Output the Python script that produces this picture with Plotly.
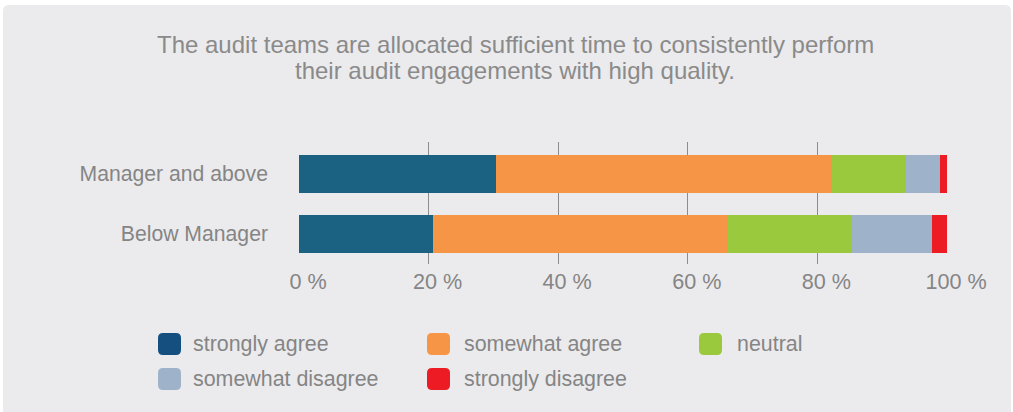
import plotly.graph_objects as go

# Survey responses (% of respondents) per staff level
categories = ["Below Manager", "Manager and above"]
series_names = ["strongly agree", "somewhat agree", "neutral",
                "somewhat disagree", "strongly disagree"]
values = {
    "strongly agree":    [20.7, 30.4],
    "somewhat agree":    [45.5, 51.8],
    "neutral":           [19.2, 11.4],
    "somewhat disagree": [12.3, 5.3],
    "strongly disagree": [2.3, 1.1],
}
tick_vals = [0, 20, 40, 60, 80, 100]
tick_labels = ["0 %", "20 %", "40 %", "60 %", "80 %", "100 %"]
title_lines = ["The audit teams are allocated sufficient time to consistently perform",
               "their audit engagements with high quality."]

bar_colors = ["#1B6182", "#F79546", "#9AC93D", "#9EB3CA", "#ED1C24"]
swatch_colors = ["#154F80", "#F79546", "#9AC93D", "#9EB3CA", "#ED1C24"]

W, H = 1013, 412
L, R, T, B = 299, 66, 142, 148
PW, PH = W - L - R, H - T - B
FONT = "Liberation Sans, Arial, sans-serif"
TEXT = "#858585"


def px(x):
    return (x - L) / PW


def py(y):
    return (H - B - y) / PH


def rounded_rect(x0, y0, x1, y1, r):
    """SVG path for a rounded rectangle given in pixel coords (paper-mapped)."""
    X0, X1 = px(x0), px(x1)
    Y0, Y1 = py(y0), py(y1)
    rx, ry = r / PW, r / PH
    return (f"M{X0 + rx},{Y0} L{X1 - rx},{Y0} Q{X1},{Y0} {X1},{Y0 - ry} "
            f"L{X1},{Y1 + ry} Q{X1},{Y1} {X1 - rx},{Y1} "
            f"L{X0 + rx},{Y1} Q{X0},{Y1} {X0},{Y1 + ry} "
            f"L{X0},{Y0 - ry} Q{X0},{Y0} {X0 + rx},{Y0} Z")


fig = go.Figure()
for name, color in zip(series_names, bar_colors):
    fig.add_trace(go.Bar(
        y=categories, x=values[name], name=name, orientation="h",
        marker=dict(color=color, line=dict(width=0)),
        showlegend=False, hoverinfo="x+name",
    ))

shapes = [dict(type="path", xref="paper", yref="paper",
               path=rounded_rect(3, 5, 1011, 430, 6),
               fillcolor="#EBEBED", line=dict(width=0), layer="below")]

# Two-line heading, each line placed separately for tight leading
annotations = []
for line, cy in zip(title_lines, [44, 70]):
    annotations.append(dict(
        text=line, xref="paper", yref="paper", x=px(515), y=py(cy),
        xanchor="center", yanchor="middle", showarrow=False,
        font=dict(family=FONT, size=24, color="#8A8A8A")))

# Legend drawn as rounded swatches in a 3-column grid
col_swatch = [158, 427, 699]
col_text = [191, 462, 735]
row_y = [344, 379]
for i, (name, color) in enumerate(zip(series_names, swatch_colors)):
    r, c = divmod(i, 3)
    cy = row_y[r]
    x0 = col_swatch[c]
    shapes.append(dict(type="path", xref="paper", yref="paper",
                       path=rounded_rect(x0, cy - 11, x0 + 23, cy + 11, 5),
                       fillcolor=color, line=dict(width=0)))
    annotations.append(dict(text=name, xref="paper", yref="paper",
                            x=px(col_text[c]), y=py(cy), xanchor="left",
                            yanchor="middle", showarrow=False,
                            font=dict(family=FONT, size=21.4, color=TEXT)))

fig.update_layout(
    width=W, height=H,
    margin=dict(l=L, r=R, t=T, b=B, pad=0),
    paper_bgcolor="white", plot_bgcolor="rgba(0,0,0,0)",
    barmode="stack", bargap=0.367,
    shapes=shapes, annotations=annotations,
    font=dict(family=FONT, size=21, color=TEXT),
    xaxis=dict(range=[0, 100], tickvals=tick_vals, ticktext=tick_labels,
               showgrid=True, gridcolor="#8C8C8C", gridwidth=1,
               zeroline=False, showline=False, ticks="", ticklen=0,
               ticklabelshift=9, ticklabelstandoff=2,
               tickfont=dict(family=FONT, size=21.6, color=TEXT)),
    yaxis=dict(type="category", range=[-0.5, 1.533], showgrid=False,
               zeroline=False, showline=False, ticks="", ticklabelstandoff=30,
               tickfont=dict(family=FONT, size=21.2, color=TEXT)),
)

fig.write_html("out.html")
